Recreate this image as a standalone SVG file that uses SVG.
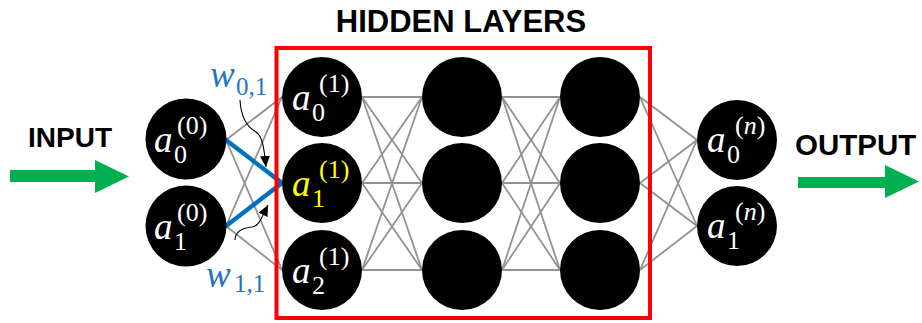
<svg xmlns="http://www.w3.org/2000/svg" width="922" height="323" viewBox="0 0 922 323">
<style>
.title{font-family:"Liberation Sans",Arial,sans-serif;font-weight:bold;fill:#000}
.node{fill:#000}
.e{stroke:#929292;stroke-width:1.8;fill:none}
.b{stroke:#0070C0;stroke-width:4.5;fill:none;stroke-linecap:round}
.a{font-family:"Liberation Serif","Times New Roman",serif;font-style:italic;font-size:37px;fill:#fff}
.s{font-family:"Liberation Serif","Times New Roman",serif;font-size:26px;fill:#fff}
.p{font-family:"Liberation Serif","Times New Roman",serif;font-size:26px;fill:#fff}
.y{fill:#FFFF00}
.w{font-family:"Liberation Serif","Times New Roman",serif;font-style:italic;font-size:37px;fill:#1F76C4}
.ws{font-family:"Liberation Serif","Times New Roman",serif;font-size:25px;fill:#1F76C4}
.c{stroke:#000;stroke-width:1.1;fill:none}
.g{fill:#00B050}
</style>
<defs>
<marker id="ah" markerUnits="userSpaceOnUse" markerWidth="12" markerHeight="10" refX="11" refY="5" orient="auto">
<path d="M0,0 L11,5 L0,10 Z" fill="#000"/>
</marker>
</defs>

<text class="title" x="461" y="32" font-size="31" text-anchor="middle">HIDDEN LAYERS</text>
<text class="title" x="28" y="147" font-size="28">INPUT</text>
<text class="title" x="795" y="155" font-size="29.5">OUTPUT</text>

<g id="input-arrow"><polygon class="g" points="10,170 95,170 95,160 129,176.5 95,193 95,182 10,182"/></g>
<g id="output-arrow"><polygon class="g" points="798,177 885,177 885,165 919,181.5 885,198 885,188 798,188"/></g>

<g id="connectors">
<line class="e" x1="226" y1="140" x2="282" y2="97"/>
<line class="e" x1="226" y1="140" x2="282" y2="270"/>
<line class="e" x1="226" y1="226" x2="282" y2="97"/>
<line class="e" x1="226" y1="226" x2="282" y2="270"/>
<line class="b" x1="226" y1="140" x2="282" y2="183"/>
<line class="b" x1="226" y1="226" x2="282" y2="183"/>

<line class="e" x1="362" y1="97" x2="422" y2="97"/>
<line class="e" x1="362" y1="97" x2="422" y2="183"/>
<line class="e" x1="362" y1="97" x2="422" y2="270"/>
<line class="e" x1="362" y1="183" x2="422" y2="97"/>
<line class="e" x1="362" y1="183" x2="422" y2="183"/>
<line class="e" x1="362" y1="183" x2="422" y2="270"/>
<line class="e" x1="362" y1="270" x2="422" y2="97"/>
<line class="e" x1="362" y1="270" x2="422" y2="183"/>
<line class="e" x1="362" y1="270" x2="422" y2="270"/>

<line class="e" x1="502" y1="97" x2="560" y2="97"/>
<line class="e" x1="502" y1="97" x2="560" y2="183"/>
<line class="e" x1="502" y1="97" x2="560" y2="270"/>
<line class="e" x1="502" y1="183" x2="560" y2="97"/>
<line class="e" x1="502" y1="183" x2="560" y2="183"/>
<line class="e" x1="502" y1="183" x2="560" y2="270"/>
<line class="e" x1="502" y1="270" x2="560" y2="97"/>
<line class="e" x1="502" y1="270" x2="560" y2="183"/>
<line class="e" x1="502" y1="270" x2="560" y2="270"/>

<line class="e" x1="640" y1="97" x2="697" y2="140"/>
<line class="e" x1="640" y1="97" x2="697" y2="226"/>
<line class="e" x1="640" y1="183" x2="697" y2="140"/>
<line class="e" x1="640" y1="183" x2="697" y2="226"/>
<line class="e" x1="640" y1="270" x2="697" y2="140"/>
<line class="e" x1="640" y1="270" x2="697" y2="226"/>

<path class="c" d="M240,100 C241,118 247,127 256,132 C262,136 264,146 266,167" marker-end="url(#ah)"/>
<path class="c" d="M235,240 C235,231 243,228 252,227 C259,226 261,219 268,205" marker-end="url(#ah)"/>
</g>

<g id="hidden-box"><rect x="276.5" y="48" width="373.5" height="270" fill="none" stroke="#FF0000" stroke-width="4"/></g>

<g id="w01"><text class="w" x="210" y="87">w</text><text class="ws" x="236" y="95">0,1</text></g>
<g id="w11"><text class="w" x="206" y="287">w</text><text class="ws" x="234" y="292">1,1</text></g>

<g id="in0"><circle class="node" cx="186" cy="139" r="40.5"/><text class="a" x="154" y="152">a</text><text class="s" x="174" y="163">0</text><text class="p" x="177" y="134">(0)</text></g>
<g id="in1"><circle class="node" cx="186" cy="226" r="40.5"/><text class="a" x="154" y="239">a</text><text class="s" x="174" y="250">1</text><text class="p" x="177" y="221">(0)</text></g>

<g id="h1-0"><circle class="node" cx="322" cy="97" r="40"/><text class="a" x="292" y="110">a</text><text class="s" x="312" y="121">0</text><text class="p" x="319" y="92">(1)</text></g>
<g id="h1-1"><circle class="node" cx="322" cy="183" r="40"/><text class="a y" x="292" y="196">a</text><text class="s y" x="312" y="207">1</text><text class="p y" x="319" y="178">(1)</text></g>
<g id="h1-2"><circle class="node" cx="322" cy="270" r="40"/><text class="a" x="292" y="283">a</text><text class="s" x="312" y="294">2</text><text class="p" x="319" y="265">(1)</text></g>

<g id="h2-0"><circle class="node" cx="462" cy="97" r="40"/></g>
<g id="h2-1"><circle class="node" cx="462" cy="183" r="40"/></g>
<g id="h2-2"><circle class="node" cx="462" cy="270" r="40"/></g>

<g id="h3-0"><circle class="node" cx="600" cy="97" r="40"/></g>
<g id="h3-1"><circle class="node" cx="600" cy="183" r="40"/></g>
<g id="h3-2"><circle class="node" cx="600" cy="270" r="40"/></g>

<g id="out0"><circle class="node" cx="737" cy="140" r="40"/><text class="a" x="707" y="152">a</text><text class="s" x="727" y="163">0</text><text class="p" x="735" y="134">(<tspan font-style="italic">n</tspan>)</text></g>
<g id="out1"><circle class="node" cx="737" cy="226" r="40"/><text class="a" x="707" y="238">a</text><text class="s" x="727" y="249">1</text><text class="p" x="735" y="220">(<tspan font-style="italic">n</tspan>)</text></g>
</svg>
